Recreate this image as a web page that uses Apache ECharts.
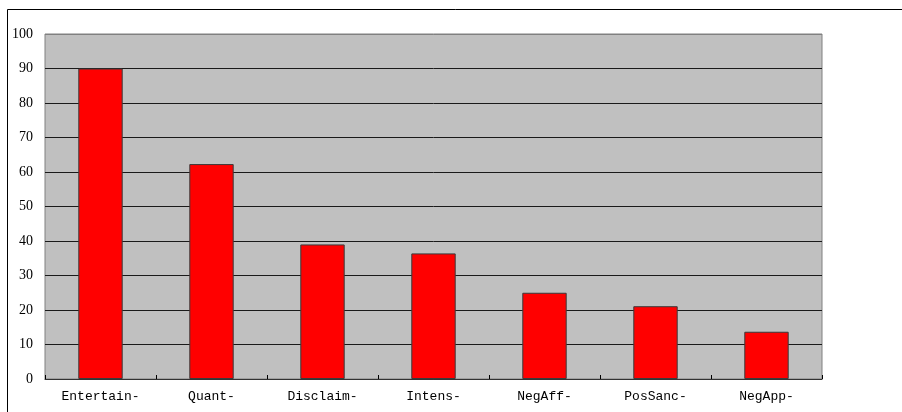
<!DOCTYPE html>
<html>
<head>
<meta charset="utf-8">
<style>html,body{margin:0;padding:0;background:#fff;}#c{width:902px;height:412px;}</style>
<script src="https://cdn.jsdelivr.net/npm/echarts@6/dist/echarts.min.js"></script>
</head>
<body>
<div id="c"></div>
<script>
const categories = ['Entertain-', 'Quant-', 'Disclaim-', 'Intens-', 'NegAff-', 'PosSanc-', 'NegApp-'];
const values = [90, 62.3, 39.0, 36.4, 25.0, 21.1, 13.7];
const yMin = 0, yMax = 100, yStep = 10;

const gridColors = [];
for (let v = yMin; v <= yMax; v += yStep) gridColors.push(v === yMax ? '#808080' : '#1a1a1a');

const chart = echarts.init(document.getElementById('c'), null, {renderer: 'canvas'});
chart.setOption({
  animation: false,
  backgroundColor: '#fff',
  graphic: [{
    type: 'rect', silent: true, z: 100,
    shape: {x: 7.5, y: 9.5, width: 1000, height: 1000},
    style: {fill: 'none', stroke: '#000', lineWidth: 1}
  }],
  grid: {
    left: 45, top: 34, right: 80, bottom: 33,
    show: true, backgroundColor: '#C0C0C0', borderColor: '#808080', borderWidth: 1
  },
  xAxis: {
    type: 'category', data: categories,
    axisLine: {show: true, lineStyle: {color: '#333', width: 1}},
    axisTick: {show: true, inside: true, length: 4, lineStyle: {color: '#000'}},
    axisLabel: {color: '#000', fontFamily: 'Liberation Mono', fontSize: 13, margin: 11}
  },
  yAxis: {
    type: 'value', min: yMin, max: yMax, interval: yStep,
    axisLine: {show: false}, axisTick: {show: false},
    splitLine: {show: true, lineStyle: {color: gridColors, width: 1}},
    axisLabel: {color: '#000', fontFamily: 'Liberation Serif', fontSize: 14, margin: 12}
  },
  series: [{
    type: 'bar', data: values, barWidth: '40%',
    itemStyle: {color: '#FF0000', borderColor: '#3a3a3a', borderWidth: 1}
  }]
});
</script>
</body>
</html>
